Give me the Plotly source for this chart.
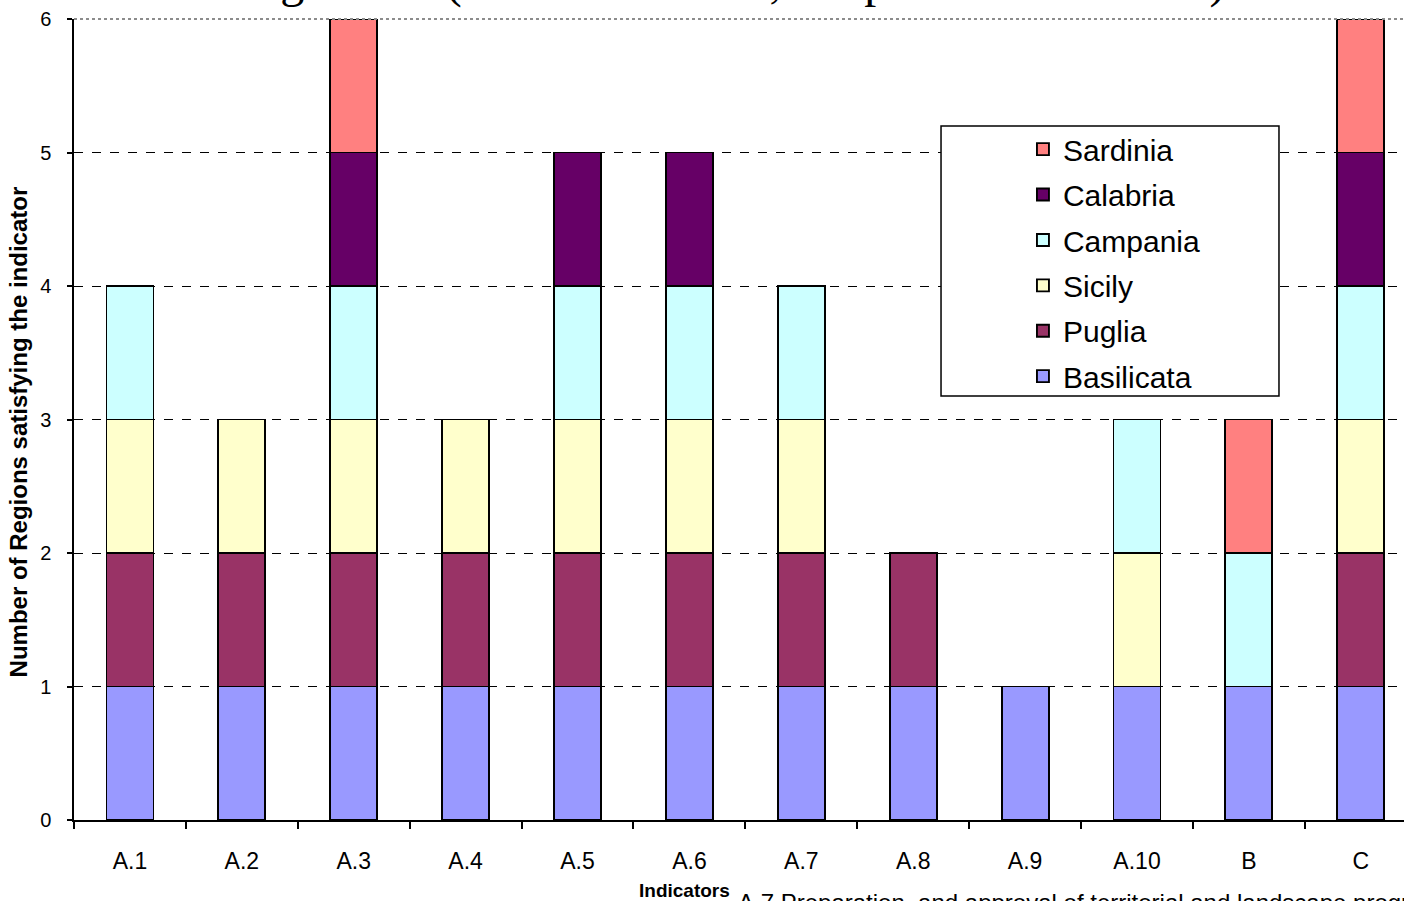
import plotly.graph_objects as go

indicators = ["A.1", "A.2", "A.3", "A.4", "A.5", "A.6", "A.7", "A.8", "A.9", "A.10", "B", "C"]

basilicata = [1, 1, 1, 1, 1, 1, 1, 1, 1, 1, 1, 1]
puglia     = [1, 1, 1, 1, 1, 1, 1, 1, 0, 0, 0, 1]
sicily     = [1, 1, 1, 1, 1, 1, 1, 0, 0, 1, 0, 1]
campania   = [1, 0, 1, 0, 1, 1, 1, 0, 0, 1, 1, 1]
calabria   = [0, 0, 1, 0, 1, 1, 0, 0, 0, 0, 0, 1]
sardinia   = [0, 0, 1, 0, 0, 0, 0, 0, 0, 0, 1, 1]

series = [
    ("Basilicata", basilicata, "#9999FF"),
    ("Puglia", puglia, "#993366"),
    ("Sicily", sicily, "#FFFFCC"),
    ("Campania", campania, "#CCFFFF"),
    ("Calabria", calabria, "#660066"),
    ("Sardinia", sardinia, "#FF8080"),
]

SANS = "Liberation Sans, Arial, sans-serif"

fig = go.Figure()
for i, (name, vals, color) in enumerate(series):
    fig.add_trace(go.Bar(
        x=indicators,
        y=[v if v else None for v in vals],
        name=name,
        legendgroup=name,
        legendrank=100 - i,
        width=0.42,
        marker=dict(color=color, line=dict(color="black", width=1.9)),
    ))

fig.update_layout(
    width=1404, height=901,
    margin=dict(l=74, r=0, t=19, b=81),
    barmode="stack",
    plot_bgcolor="white", paper_bgcolor="white",
    showlegend=True,
    legend=dict(
        traceorder="grouped",
        tracegroupgap=3.4,
        x=0.7135, xanchor="left", y=0.870, yanchor="top",
        bgcolor="rgba(0,0,0,0)",
        font=dict(family=SANS, size=30, color="black"),
        itemwidth=30,
    ),
    xaxis=dict(
        type="category",
        range=[-0.5, 11.386],
        tickson="boundaries",
        ticks="outside", ticklen=7, tickwidth=1.5, tickcolor="black",
        showline=True, linecolor="black", linewidth=1.5,
        showgrid=False,
        tickfont=dict(family=SANS, size=23, color="black"),
        ticklabelstandoff=20,
    ),
    yaxis=dict(
        range=[0, 6],
        tickvals=[0, 1, 2, 3, 4, 5, 6],
        ticks="outside", ticklen=5, tickwidth=1.5, tickcolor="black",
        showline=True, linecolor="black", linewidth=1.5,
        showgrid=True, gridcolor="black", griddash="dash", gridwidth=1,
        zeroline=False,
        tickfont=dict(family=SANS, size=20, color="black"),
        ticklabelstandoff=12,
    ),
    shapes=[
        dict(type="line", xref="paper", yref="paper", x0=0, x1=1, y0=1, y1=1,
             line=dict(color="#8c8c8c", width=2, dash="dot"), layer="above"),
        dict(type="rect", xref="paper", yref="paper",
             x0=0.6519, x1=0.906, y0=0.5293, y1=0.8664,
             line=dict(color="black", width=1.5), fillcolor="white", layer="above"),
    ],
    annotations=[
        dict(text="Regions in (Southern Italian, the promoted reforms)",
             xref="paper", yref="paper", x=0.1135, y=1.011,
             xanchor="left", yanchor="bottom", showarrow=False,
             font=dict(family="Liberation Serif, Times New Roman, serif", size=48, color="black")),
        dict(text="Number of Regions satisfying the indicator",
             xref="paper", yref="paper", x=-0.042, y=0.484, textangle=-90,
             xanchor="center", yanchor="middle", showarrow=False,
             font=dict(family=SANS, size=24, color="black", weight="bold")),
        dict(text="<b>Indicators</b>",
             xref="paper", yref="paper", x=0.4235, y=-0.0718,
             xanchor="left", yanchor="top", showarrow=False,
             font=dict(family=SANS, size=19, color="black")),
        dict(text="A.7 Preparation, and approval of territorial and landscape programmes",
             xref="paper", yref="paper", x=0.4975, y=-0.0841,
             xanchor="left", yanchor="top", showarrow=False,
             font=dict(family=SANS, size=24, color="black")),
    ],
)

fig.write_html("out.html",
               config={"displayModeBar": False},
               post_script="document.body.style.margin='0px';document.body.style.overflow='hidden';")
